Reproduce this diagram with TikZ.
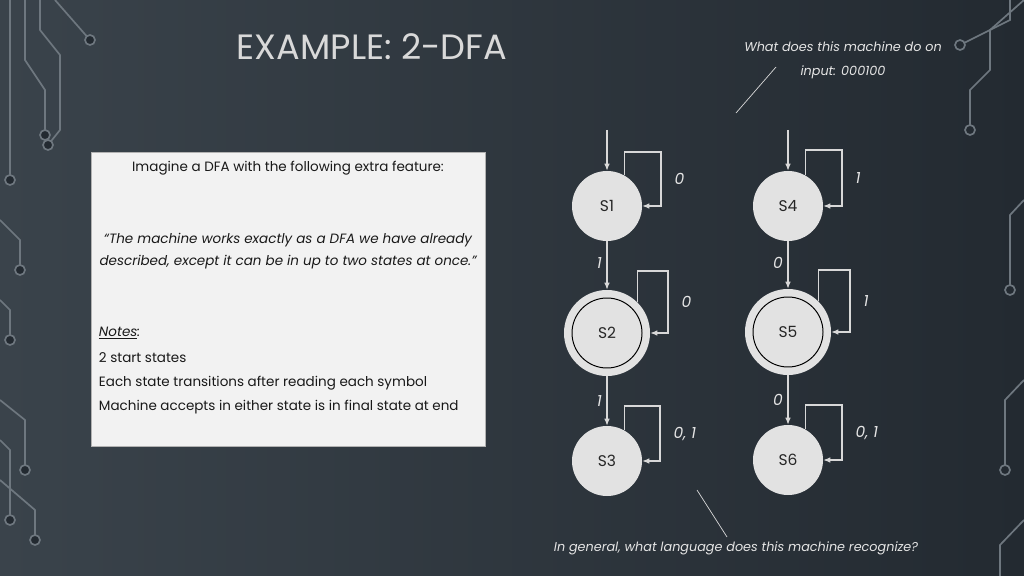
\documentclass[tikz,border=0pt]{standalone}
\usepackage{fontspec}
\setmainfont{Poppins}
\usetikzlibrary{arrows.meta}
\definecolor{bgdark}{HTML}{232A31}
\definecolor{bglight}{HTML}{3A434B}
\definecolor{statefill}{HTML}{E2E2E2}
\definecolor{wire}{HTML}{D8D8D8}
\definecolor{circuit}{HTML}{6E777F}
\newcommand{\boxfont}{\fontsize{9.6}{11}\selectfont}
\newcommand{\askfont}{\fontsize{9.1}{11}\selectfont\itshape}
\tikzset{
  state/.style={circle,fill=statefill,minimum size=1.75cm,inner sep=0pt,font=\fontsize{11}{13}\selectfont,text=black!85},
  outer/.style={circle,fill=statefill,minimum size=2.15cm,inner sep=0pt},
  edge/.style={draw=wire,line width=0.8pt,-{Latex[length=5pt,width=4pt]}},
  lbl/.style={text=white!90!black,font=\fontsize{11}{13}\selectfont\itshape},
  note/.style={text=black!90,font=\boxfont,anchor=west},
  trace/.style={draw=circuit,line width=1.2pt},
  pad/.style={draw=circuit,line width=1.2pt,fill=bgdark}
}
\begin{document}
\begin{tikzpicture}[x=0.025cm,y=-0.025cm]
  \shade[left color=bglight,right color=bgdark] (0,0) rectangle (1024,576);
  \useasboundingbox (0,0) rectangle (1024,576);
  % circuit decoration
  \draw[trace] (10,0) -- (10,180);
  \draw[trace] (25,0) -- (25,60) -- (45,90) -- (45,135);
  \draw[trace] (40,0) -- (40,30) -- (60,55) -- (60,130) -- (48,145);
  \draw[trace] (55,0) -- (90,40);
  \draw[trace] (0,220) -- (20,240) -- (20,270);
  \draw[trace] (0,300) -- (10,310) -- (10,340);
  \draw[trace] (0,400) -- (25,420) -- (25,470);
  \draw[trace] (0,440) -- (10,450) -- (10,520);
  \draw[trace] (0,480) -- (35,510) -- (35,540);
  \draw[trace] (1024,0) -- (990,30) -- (990,70) -- (970,90) -- (970,130);
  \draw[trace] (1010,0) -- (1010,20) -- (960,45);
  \draw[trace] (1024,200) -- (1010,215) -- (1010,290);
  \draw[trace] (1024,380) -- (1005,400) -- (1005,470);
  \draw[trace] (1024,520) -- (1000,545) -- (1000,576);
  \foreach \px/\py in {45/135,48/145,10/180,90/40,20/270,10/340,25/470,10/520,35/540,970/130,960/45,1010/290,1005/470}
    \draw[pad] (\px,\py) circle (5);
  % title and questions
  \node[text=white!85!black,font=\fontsize{25}{28}\selectfont] (title) at (372,47) {EXAMPLE: 2-DFA};
  \node[text=white!90!black,font=\askfont,align=center] (ask) at (843,60) {What does this machine do on\\[6pt]input: 000100};
  \node[text=white!90!black,font=\askfont] (ask2) at (736,548) {In general, what language does this machine recognize?};
  \coordinate (p1) at (776,67); \coordinate (p2) at (736,113);
  \coordinate (p3) at (697,490); \coordinate (p4) at (727,537);
  \draw[wire,line width=0.5pt] (p1) -- (p2);
  \draw[wire,line width=0.5pt] (p3) -- (p4);
  % description box
  \draw[fill=white!95!black,draw=white!70!black] (91,152) rectangle (485,446);
  \node[text=black!90,font=\boxfont] (intro) at (288,168) {Imagine a DFA with the following extra feature:};
  \node[text=black!90,font=\boxfont\itshape,align=center] (quote) at (288,251) {``The machine works exactly as a DFA we have already\\[5pt]described, except it can be in up to two states at once.''};
  \node[note,font=\boxfont\itshape] (notes) at (94,333) {\underline{Notes}:};
  \node[note] (n1) at (94,358) {2 start states};
  \node[note] (n2) at (94,383) {Each state transitions after reading each symbol};
  \node[note] (n3) at (94,407) {Machine accepts in either state is in final state at end};
  % states
  \node[outer] (o2) at (607,333) {};
  \node[outer] (o5) at (788,332) {};
  \foreach \name/\x/\y/\txt in {s1/607/206/S1,s2/607/333/S2,s3/607/461/S3,s4/788/206/S4,s5/788/332/S5,s6/788/460/S6}
    \node[state] (\name) at (\x,\y) {\txt};
  \draw[black,line width=0.7pt] (s2) circle (35);
  \draw[black,line width=0.7pt] (s5) circle (35);
  % start arrows
  \coordinate (st1) at (607,130); \coordinate (st4) at (788,130);
  \draw[edge] (st1) -- (s1);
  \draw[edge] (st4) -- (s4);
  \draw[edge] (s1) -- node[lbl,left,pos=0.45] {1} (o2);
  \draw[edge] (o2) -- node[lbl,left,pos=0.5] {1} (s3);
  \draw[edge] (s4) -- node[lbl,left,pos=0.45] {0} (o5);
  \draw[edge] (o5) -- node[lbl,left,pos=0.5] {0} (s6);
  % self loops
  \draw[edge] (s1.60) |- (661,152) |- node[lbl,pos=0.25,right=6pt] {0} (s1.east);
  \draw[edge] (o2.45) |- (668,271) |- node[lbl,pos=0.25,right=6pt] {0} (o2.east);
  \draw[edge] (s3.60) |- (660,406) |- node[lbl,pos=0.25,right=6pt] {0, 1} (s3.east);
  \draw[edge] (s4.60) |- (842,150) |- node[lbl,pos=0.25,right=6pt] {1} (s4.east);
  \draw[edge] (o5.45) |- (850,270) |- node[lbl,pos=0.25,right=6pt] {1} (o5.east);
  \draw[edge] (s6.60) |- (842,405) |- node[lbl,pos=0.25,right=6pt] {0, 1} (s6.east);
\end{tikzpicture}
\end{document}
